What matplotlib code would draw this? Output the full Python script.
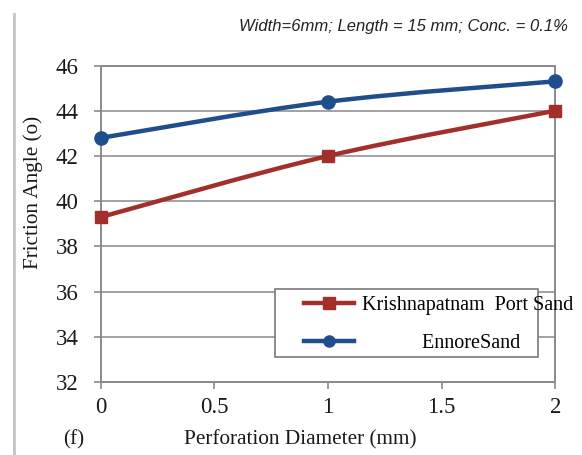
import matplotlib
matplotlib.use("Agg")
import matplotlib.pyplot as plt
from matplotlib.path import Path
from matplotlib.patches import PathPatch, Rectangle
from matplotlib.lines import Line2D

# perforation diameter (mm) and friction angle (deg) for the two sands
diameter = [0, 1, 2]
krishnapatnam = [39.3, 42.0, 44.0]
ennore = [42.8, 44.4, 45.3]

series_names = ["Krishnapatnam  Port Sand", "EnnoreSand"]
x_ticks = [0, 0.5, 1, 1.5, 2]
x_tick_labels = ["0", "0.5", "1", "1.5", "2"]
y_ticks = [32, 34, 36, 38, 40, 42, 44, 46]

RED = "#a32f2b"
BLUE = "#1f4e8c"
serif = "Liberation Serif"


def smooth_path(xs, ys):
    # excel-style smoothed line: cubic bezier segments through every point
    pts = list(zip(xs, ys))
    verts = [pts[0]]
    codes = [Path.MOVETO]
    n = len(pts)
    for i in range(n - 1):
        p0 = pts[max(i - 1, 0)]
        p1 = pts[i]
        p2 = pts[i + 1]
        p3 = pts[min(i + 2, n - 1)]
        c1 = (p1[0] + (p2[0] - p0[0]) / 6, p1[1] + (p2[1] - p0[1]) / 6)
        c2 = (p2[0] - (p3[0] - p1[0]) / 6, p2[1] - (p3[1] - p1[1]) / 6)
        verts += [c1, c2, p2]
        codes += [Path.CURVE4] * 3
    return Path(verts, codes)


fig = plt.figure(figsize=(5.82, 4.55), dpi=100)
ax = fig.add_axes([0.173, 0.160, 0.781, 0.696])

for ys, col, mk, ms in [(krishnapatnam, RED, "s", 9), (ennore, BLUE, "o", 9.5)]:
    ax.add_patch(PathPatch(smooth_path(diameter, ys), facecolor="none",
                           edgecolor=col, lw=3.2, zorder=3, capstyle="round"))
    ax.plot(diameter, ys, linestyle="none", marker=mk, ms=ms, color=col,
            markeredgecolor=col, zorder=4, clip_on=False)

ax.set_xlim(0, 2)
ax.set_ylim(32, 46)
ax.set_xticks(x_ticks)
ax.set_xticklabels(x_tick_labels)
ax.set_yticks(y_ticks)
ax.grid(axis="y", color="#9a9a9a", lw=1.3)
ax.set_axisbelow(True)
for s in ax.spines.values():
    s.set_color("#8a8a8a")
    s.set_linewidth(1.4)
ax.tick_params(axis="both", direction="out", color="#8a8a8a", width=1.2,
               labelsize=16.5, labelcolor="#1a1a1a")
ax.tick_params(axis="y", length=5, pad=11)
ax.tick_params(axis="x", length=5, pad=6)
for lbl in ax.get_xticklabels() + ax.get_yticklabels():
    lbl.set_fontfamily(serif)

ax.set_xlabel("Perforation Diameter (mm)", fontsize=15.3, family=serif, color="#1a1a1a")
ax.xaxis.set_label_coords(0.439, -0.15)
ax.set_ylabel("Friction Angle (o)", fontsize=15.3, family=serif, color="#1a1a1a")
ax.yaxis.set_label_coords(-0.127, 0.60)

fig.text(63 / 582, 1 - 440 / 455, "(f)", fontsize=15.3, family=serif,
         ha="left", va="center", color="#1a1a1a")
fig.text(568 / 582, 1 - 27 / 455, "Width=6mm; Length = 15 mm; Conc. = 0.1%",
         fontsize=12, family="Liberation Sans", style="italic",
         ha="right", va="center", color="#222222")

# legend box, with entries laid over it (the first label runs past the box)
fig.patches.append(Rectangle((275 / 582, 1 - 357 / 455), 263 / 582, 68 / 455,
                             transform=fig.transFigure, facecolor="white",
                             edgecolor="#7a7a7a", lw=1.2, zorder=5))
handles = [Line2D([], [], color=RED, lw=3.2, marker="s", ms=8),
           Line2D([], [], color=BLUE, lw=3.2, marker="o", ms=8)]
labels = [series_names[0], "            " + series_names[1]]
leg = fig.legend(handles, labels, loc="upper left",
                 bbox_to_anchor=(288 / 582, 1 - 280 / 455), frameon=False,
                 prop={"family": serif, "size": 14.5}, handlelength=2.5,
                 handletextpad=0.35, labelspacing=0.95, borderpad=0.3)
leg.set_zorder(6)

# page margin rule on the left
fig.add_artist(Line2D([14 / 582, 14 / 582], [0, 1 - 14 / 455],
                      transform=fig.transFigure, color="#c4c4c4", lw=2))

fig.savefig("out.png", dpi=100, facecolor="white")
